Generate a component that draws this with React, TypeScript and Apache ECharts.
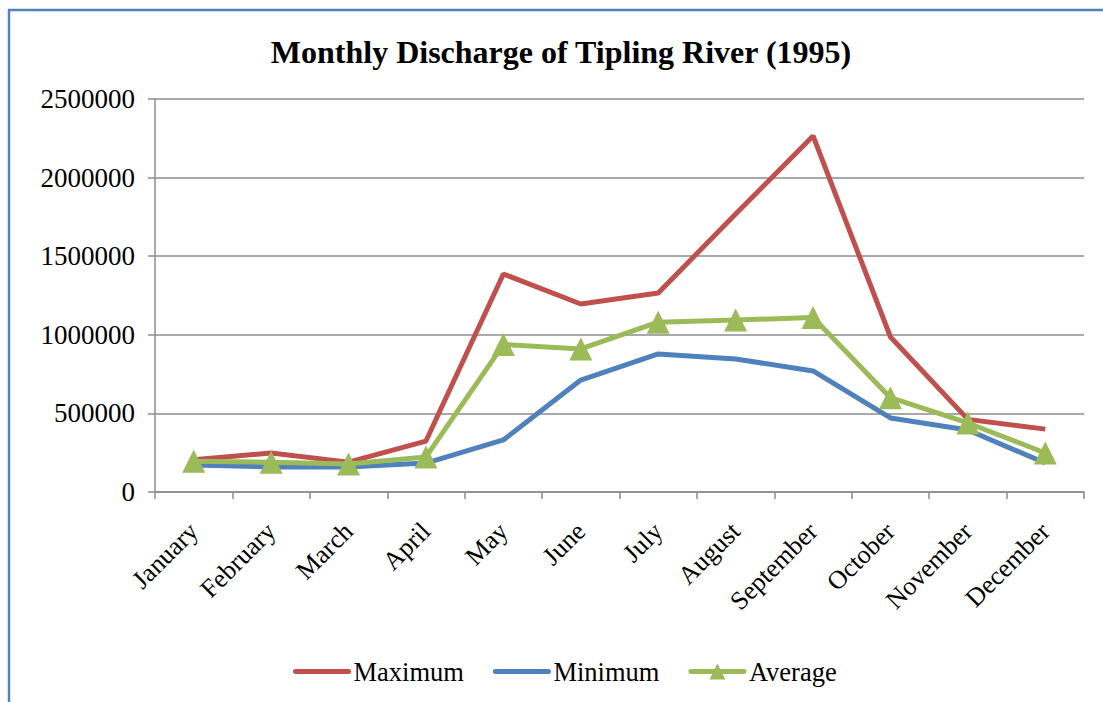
import React, { useEffect, useRef } from "react";
import * as echarts from "echarts";

const months = ["January","February","March","April","May","June","July","August","September","October","November","December"];
const maximum = [205000, 248000, 190000, 324000, 1387000, 1196000, 1266000, 1768000, 2265000, 986000, 462000, 400000];
const minimum = [172000, 159000, 159000, 184000, 331000, 712000, 878000, 846000, 770000, 471000, 394000, 184000];
const average = [195000, 190000, 178000, 223000, 938000, 910000, 1080000, 1094000, 1110000, 600000, 439000, 248000];
const seriesNames = ["Maximum", "Minimum", "Average"];
const colors = ["#C0504D", "#4F81BD", "#9BBB59"];

const FONT = "'Liberation Serif', 'Times New Roman', serif";

export default function App() {
  const ref = useRef<HTMLDivElement>(null);
  useEffect(() => {
    if (!ref.current) return;
    const chart = echarts.init(ref.current, null, { renderer: "svg" });
    chart.setOption({
      animation: false,
      backgroundColor: "#ffffff",
      title: {
        text: "Monthly Discharge of Tipling River (1995)",
        left: 556,
        textAlign: "center",
        top: 31,
        textStyle: { fontFamily: FONT, fontSize: 32, fontWeight: "bold", color: "#000" },
      },
      legend: {
        bottom: 12,
        left: 288,
        itemWidth: 53,
        itemHeight: 20,
        itemGap: 29,
        lineStyle: { width: 5, cap: "round" },
        textStyle: { fontFamily: FONT, fontSize: 26.5, color: "#000" },
        data: [
          { name: seriesNames[0], itemStyle: { opacity: 0 } },
          { name: seriesNames[1], itemStyle: { opacity: 0 } },
          { name: seriesNames[2] },
        ],
      },
      grid: { left: 155, right: 19, top: 99, bottom: 210, containLabel: false },
      xAxis: {
        type: "category",
        data: months,
        boundaryGap: true,
        axisLine: { lineStyle: { color: "#8c8c8c", width: 1.5 } },
        axisTick: { show: true, length: 7, lineStyle: { color: "#8c8c8c", width: 1.5 } },
        axisLabel: {
          rotate: 45,
          interval: 0,
          margin: 35,
          fontFamily: FONT,
          fontSize: 26,
          color: "#000",
        },
      },
      yAxis: {
        type: "value",
        min: 0,
        max: 2500000,
        interval: 500000,
        axisLine: { show: true, lineStyle: { color: "#8c8c8c", width: 1.5 } },
        axisTick: { show: true, length: 7, lineStyle: { color: "#8c8c8c", width: 1.5 } },
        splitLine: { lineStyle: { color: "#8c8c8c", width: 1.5 } },
        axisLabel: {
          margin: 20,
          fontFamily: FONT,
          fontSize: 27,
          color: "#000",
          formatter: (v: number) => String(v),
        },
      },
      graphic: [
        { type: "line", shape: { x1: 8, y1: 10, x2: 1103, y2: 10 }, style: { stroke: "#4F81BD", lineWidth: 2.5 } },
        { type: "line", shape: { x1: 9, y1: 10, x2: 9, y2: 702 }, style: { stroke: "#4F81BD", lineWidth: 2.5 } },
      ],
      series: [
        {
          name: seriesNames[0], type: "line", data: maximum, symbol: "none",
          lineStyle: { color: colors[0], width: 5 }, itemStyle: { color: colors[0] },
        },
        {
          name: seriesNames[1], type: "line", data: minimum, symbol: "none",
          lineStyle: { color: colors[1], width: 5 }, itemStyle: { color: colors[1] },
        },
        {
          name: seriesNames[2], type: "line", data: average, symbol: "triangle", symbolSize: 23,
          lineStyle: { color: colors[2], width: 5 }, itemStyle: { color: colors[2] },
        },
      ],
    });
    return () => chart.dispose();
  }, []);
  return <div ref={ref} style={{ position: "fixed", left: 0, top: 0, width: 1103, height: 702 }} />;
}
